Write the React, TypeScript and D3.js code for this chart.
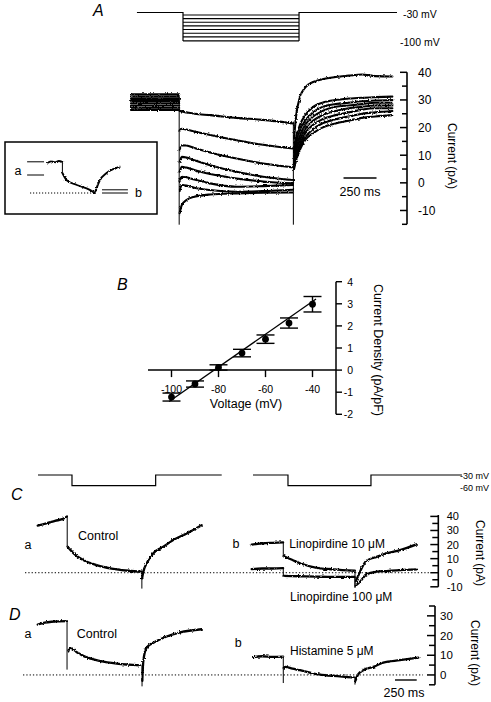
import React from 'react';
import * as d3 from 'd3';

const FONT = "'Liberation Sans', Arial, Helvetica, sans-serif";

// ---------------- Panel A: voltage protocol ----------------
const protoATimes = [45, 394, 1273, 2015]; // start, step on, step off, end (ms)
const protoAHold = -30;
const protoASteps = [-36, -45, -54, -63, -72, -81, -90, -100];
const protoALabels = ['-30 mV', '-100 mV'];

// ---------------- Panel A: current traces ----------------
const aPreTimes = [0, 365];
const aPreLevels = [32, 31.2, 30.4, 29.6, 28.8, 28, 27.2, 26.4];
const aStepTimes = [368, 385, 420, 480, 600, 800, 1000, 1228];
const aStepCurrents = [
  [26, 25.8, 25.5, 25, 24.5, 23.5, 22.8, 21.5],
  [19, 19.6, 19.3, 18.6, 17.3, 15.4, 13.8, 12.4],
  [12, 13.6, 13.5, 12.6, 11, 8.8, 7, 5.6],
  [7.5, 9.4, 9.2, 8.2, 6.4, 4, 2.2, 1],
  [4, 5.8, 5.5, 4.6, 3.2, 1.6, 0.5, -0.2],
  [0.5, 2.2, 2, 1.2, -0.2, -1.4, -1.2, -0.8],
  [-3, -0.8, -1, -1.8, -2.6, -3.2, -3, -2.5],
  [-11, -8, -6.2, -5, -4.2, -3.8, -3.6, -3.5],
];
const aTailTimes = [1235, 1250, 1280, 1320, 1380, 1450, 1550, 1650, 1750, 1850, 1980];
const aTailCurrents = [
  [16, 24, 31, 34.5, 36.5, 37.5, 38.3, 38.8, 39.2, 38.6, 38.5],
  [13, 16.5, 21, 24.5, 27.5, 29, 30, 30.5, 30.8, 31, 31.2],
  [11, 14.5, 19, 22.5, 25.5, 27.5, 28.5, 29, 29.5, 29.8, 30],
  [9.5, 13, 17, 21, 24, 26, 27.5, 28, 28.5, 29, 29],
  [8, 11.5, 15.5, 19.5, 22.5, 24.5, 26, 27, 27.5, 28, 28],
  [7, 10, 14, 18, 21, 23, 24.5, 25.5, 26.5, 27, 27],
  [6, 9, 13, 16.5, 19.5, 21.5, 23, 24, 25, 25.5, 26],
  [5, 8, 12, 15.5, 18, 20, 21.5, 22.5, 23.5, 24, 24.5],
];
const aSpikes = [
  { t: 365, from: 31, to: -15 },
  { t: 1230, from: -15, to: 22 },
];
const aTicks = [-10, 0, 10, 20, 30, 40];
const aMinorTicks = [-15, -5, 5, 15, 25, 35];
const aScaleBar = { t: 1610, len: 250, label: '250 ms' };

// ---------------- Panel A: inset ----------------
const insetPreT = [0, 5, 10, 15, 20];
const insetPreI = [38, 39.5, 38.5, 40, 39];
const insetStepT = [20, 26, 40, 58, 65];
const insetStepI = [25, 16, 10, 4, 0];
const insetTailT = [65, 72, 81, 100];
const insetTailI = [0, 16, 24.6, 32.9];
const insetLevelsA = [39, 22.5];
const insetLevelsB = [4, 0];

// ---------------- Panel B: I-V relation ----------------
const bVoltages = [-100, -90, -80, -70, -60, -50, -40];
const bDensity = [-1.22, -0.63, 0.12, 0.77, 1.4, 2.13, 2.98];
const bError = [0.18, 0.14, 0.12, 0.17, 0.19, 0.23, 0.35];
const bFitV = [-101, -38.5];
const bFitJ = [-1.42, 3.22];
const bXTicks = [-100, -80, -60, -40];
const bYTicks = [-2, -1, 0, 1, 2, 3, 4];

// ---------------- Panels C / D: protocol ----------------
const protoCLeftTimes = [3, 395, 1359, 2120];
const protoCRightTimes = [15, 418, 1374, 2422];
const protoCLevels = [-30, -60];
const protoCLabels = ['-30 mV', '-60 mV'];

// ---------------- Panel C traces ----------------
const cCtrlPreT = [0, 100, 200, 300, 338];
const cCtrlPreI = [33.5, 35, 36.8, 38.5, 40];
const cCtrlStepT = [345, 420, 525, 718, 910, 1050, 1198];
const cCtrlStepI = [18.5, 13.4, 9, 4.7, 2.4, 1.4, 0.7];
const cCtrlTailT = [1203, 1217, 1256, 1332, 1447, 1562, 1717, 1889];
const cCtrlTailI = [-4, 0.7, 6.7, 13.8, 18.4, 23.2, 27.9, 33.8];
const cCtrlSpikes = [
  { t: 340, from: 40, to: 18.5 },
  { t: 1200, from: 0.7, to: -11 },
];

const cL10PreT = [0, 120, 240, 362];
const cL10PreI = [20, 20.8, 21.2, 21.5];
const cL10StepT = [368, 384, 470, 557, 749, 941, 1188];
const cL10StepI = [11.8, 11.3, 9, 6.7, 3.5, 2.4, 1.4];
const cL10TailT = [1200, 1248, 1286, 1325, 1440, 1555, 1708, 1900];
const cL10TailI = [-6, 0.7, 5.5, 8.5, 11.3, 13.8, 16.1, 20.1];
const cL10Spikes = [
  { t: 364, from: 21.5, to: 11.5 },
  { t: 1190, from: 1.4, to: -10 },
];

const cL100PreT = [0, 120, 240, 362];
const cL100PreI = [2.6, 3, 3, 3.2];
const cL100StepT = [368, 557, 749, 941, 1188];
const cL100StepI = [-2.2, -2.5, -2.8, -3, -3];
const cL100TailT = [1200, 1248, 1325, 1440, 1555, 1708, 1900];
const cL100TailI = [-9, -6.4, -1, 0.7, 1.2, 1.9, 2.4];
const cL100Spikes = [
  { t: 364, from: 3.2, to: -2.5 },
  { t: 1190, from: -3, to: -10.5 },
];
const cTicks = [-10, 0, 10, 20, 30, 40];
const cMinorTicks = [-5, 5, 15, 25, 35];

// ---------------- Panel D traces ----------------
const dCtrlPreT = [0, 80, 160, 250, 336];
const dCtrlPreI = [25.6, 26.5, 27, 27.2, 27.3];
const dCtrlStepT = [352, 372, 450, 525, 718, 910, 1178];
const dCtrlStepI = [12, 13.9, 11.5, 9.7, 7.1, 5.7, 4.9];
const dCtrlTailT = [1205, 1217, 1256, 1371, 1486, 1640, 1889];
const dCtrlTailI = [-3, 7.1, 13.9, 17.2, 19.5, 21.6, 23.2];
const dCtrlSpikes = [
  { t: 338, from: 27.3, to: 2.9 },
  { t: 1202, from: 4.9, to: -5.6 },
];

const dHistPreT = [18, 120, 240, 362];
const dHistPreI = [9, 9.5, 9.2, 9.3];
const dHistStepT = [368, 384, 470, 557, 749, 941, 1188];
const dHistStepI = [3.5, 4.1, 3.2, 2.4, 0.4, -0.5, -1.4];
const dHistTailT = [1195, 1228, 1286, 1401, 1516, 1708, 1919];
const dHistTailI = [-3, 0.4, 2.4, 4.1, 6.3, 7.5, 8.8];
const dHistSpikes = [
  { t: 364, from: 9.3, to: -3.9 },
  { t: 1190, from: -1.4, to: -4.7 },
];
const dTicks = [0, 10, 20, 30];
const dMinorTicks = [-5, 5, 15, 25, 35];
const dScaleBar = { t: 1651, len: 250, label: '250 ms' };

type Sc = d3.ScaleLinear<number, number>;

function tracePath(xs: Sc, ys: Sc, times: number[], vals: number[]) {
  const gen = d3
    .line<number>()
    .x((_, k) => xs(times[k]))
    .y((d) => ys(d))
    .curve(d3.curveMonotoneX);
  return gen(vals) || '';
}

function Trace({ xs, ys, segs, spikes, sw = 2.3, noisy = true }: any) {
  return (
    <g fill="none" stroke="#000" strokeLinejoin="round" strokeLinecap="round">
      <g filter={noisy ? 'url(#jitter)' : undefined}>
        {segs.map((s: any, k: number) => (
          <path key={k} d={tracePath(xs, ys, s[0], s[1])} strokeWidth={sw} />
        ))}
      </g>
      {spikes.map((s: any, k: number) => (
        <line key={'s' + k} x1={xs(s.t)} x2={xs(s.t)} y1={ys(s.from)} y2={ys(s.to)} strokeWidth={1} />
      ))}
    </g>
  );
}

function VAxis({ x, ys, major, minor, majLen, minLen, labelX, fontSize, top, bottom, anchor = 'start', dir = -1 }: any) {
  return (
    <g>
      <line x1={x} x2={x} y1={ys(bottom)} y2={ys(top)} stroke="#000" strokeWidth={1.6} />
      {major.map((v: number) => (
        <line key={'M' + v} x1={x} x2={x + dir * majLen} y1={ys(v)} y2={ys(v)} stroke="#000" strokeWidth={1.5} />
      ))}
      {minor.map((v: number) => (
        <line key={'m' + v} x1={x} x2={x + dir * minLen} y1={ys(v)} y2={ys(v)} stroke="#000" strokeWidth={1.5} />
      ))}
      {major.map((v: number) => (
        <text key={'t' + v} x={labelX} y={ys(v) + fontSize * 0.36} fontSize={fontSize} textAnchor={anchor} fontFamily={FONT}>
          {v}
        </text>
      ))}
    </g>
  );
}

export default function App() {
  // Panel A scales
  const xA = d3.scaleLinear().domain([0, 2000]).range([131, 395]);
  const yA = d3.scaleLinear().domain([-15, 40]).range([224.3, 72.3]);
  const yPA = d3.scaleLinear().domain([-100, -30]).range([40.9, 12.5]);
  // inset
  const xI = d3.scaleLinear().domain([0, 100]).range([48, 120]);
  const yI = d3.scaleLinear().domain([0, 40]).range([193, 161]);
  // Panel B scales
  const xB = d3.scaleLinear().domain([-110, -30]).range([148, 336]);
  const yB = d3.scaleLinear().domain([-2, 4]).range([414.3, 281.7]);
  // Panels C/D
  const xCL = d3.scaleLinear().domain([0, 2000]).range([37.7, 211.3]);
  const xCR = d3.scaleLinear().domain([0, 2000]).range([251.7, 425.3]);
  const yC = d3.scaleLinear().domain([-10, 40]).range([586.8, 516.4]);
  const yD = d3.scaleLinear().domain([-5, 35]).range([684.8, 606]);
  const yPC = d3.scaleLinear().domain([-60, -30]).range([485.7, 475]);

  const protoCPath = (xs: Sc, t: number[]) =>
    `M${xs(t[0])},${yPC(protoCLevels[0])}H${xs(t[1])}V${yPC(protoCLevels[1])}H${xs(t[2])}V${yPC(protoCLevels[0])}H${xs(t[3])}`;

  const panelLabel = (x: number, y: number, s: string) => (
    <text x={x} y={y} fontSize={16} fontStyle="italic" fontFamily={FONT}>
      {s}
    </text>
  );

  const txt = (x: number, y: number, s: string, fs = 12.5, anchor = 'start') => (
    <text x={x} y={y} fontSize={fs} fontFamily={FONT} textAnchor={anchor}>
      {s}
    </text>
  );

  const fitLine = d3
    .line<number>()
    .x((v) => xB(v))
    .y((_, k) => yB(bFitJ[k]));

  return (
    <svg
      width={491}
      height={702}
      viewBox="0 0 491 702"
      style={{ position: 'absolute', left: 0, top: 0, background: '#fff' }}
      fontFamily={FONT}
    >
      <defs>
        <filter id="jitter" x="-5%" y="-20%" width="110%" height="140%">
          <feTurbulence type="fractalNoise" baseFrequency="0.7 0.5" numOctaves={2} seed={3} result="n" />
          <feDisplacementMap in="SourceGraphic" in2="n" scale={2.8} xChannelSelector="R" yChannelSelector="G" />
        </filter>
      </defs>
      <rect x={0} y={0} width={491} height={702} fill="#fff" />

      {/* ================= Panel A ================= */}
      {panelLabel(93, 16, 'A')}
      <g stroke="#000" fill="none" strokeWidth={1.2}>
        <path
          d={`M${xA(protoATimes[0])},${yPA(protoAHold)}H${xA(protoATimes[1])}V${yPA(protoASteps[protoASteps.length - 1])}M${xA(
            protoATimes[2]
          )},${yPA(protoASteps[protoASteps.length - 1])}V${yPA(protoAHold)}H${xA(protoATimes[3])}`}
        />
        {protoASteps.map((v) => (
          <line key={v} x1={xA(protoATimes[1])} x2={xA(protoATimes[2])} y1={yPA(v)} y2={yPA(v)} strokeWidth={1.1} />
        ))}
      </g>
      {txt(403, 18, protoALabels[0], 10.5)}
      {txt(400, 46, protoALabels[1], 10.5)}

      {/* traces */}
      {aPreLevels.map((lvl, k) => (
        <Trace
          key={k}
          xs={xA}
          ys={yA}
          sw={2.1}
          segs={[
            [aPreTimes, [lvl, lvl]],
            [aStepTimes, aStepCurrents[k]],
            [aTailTimes, aTailCurrents[k]],
          ]}
          spikes={[]}
        />
      ))}
      <Trace xs={xA} ys={yA} segs={[]} spikes={aSpikes} />

      <VAxis x={407} ys={yA} major={aTicks} minor={aMinorTicks} majLen={7} minLen={5} labelX={418} fontSize={12} top={40} bottom={-15} />
      <text transform="translate(451.7,156) rotate(90)" textAnchor="middle" dominantBaseline="central" fontSize={12} fontFamily={FONT}>
        Current (pA)
      </text>
      <line x1={xA(aScaleBar.t)} x2={xA(aScaleBar.t + aScaleBar.len)} y1={178} y2={178} stroke="#000" strokeWidth={1.4} />
      {txt(360, 196, aScaleBar.label, 12.5, 'middle')}

      {/* inset */}
      <rect x={5} y={142} width={152} height={72} fill="none" stroke="#000" strokeWidth={1.5} />
      {txt(18, 174.5, 'a', 12.5, 'middle')}
      {txt(135, 197, 'b', 12.5, 'start')}
      {insetLevelsA.map((v) => (
        <line key={'ia' + v} x1={xI(-29)} x2={xI(-5.5)} y1={yI(v)} y2={yI(v)} stroke="#000" strokeWidth={1} />
      ))}
      {insetLevelsB.map((v) => (
        <line key={'ib' + v} x1={xI(75)} x2={xI(111)} y1={yI(v)} y2={yI(v)} stroke="#000" strokeWidth={1} />
      ))}
      <line x1={xI(-25)} x2={xI(65)} y1={yI(0)} y2={yI(0)} stroke="#000" strokeWidth={1} strokeDasharray="1.2,1.8" />
      <Trace
        xs={xI}
        ys={yI}
        sw={1.9}
        segs={[
          [insetPreT, insetPreI],
          [insetStepT, insetStepI],
          [insetTailT, insetTailI],
        ]}
        spikes={[{ t: 20, from: 39, to: 25 }]}
      />

      {/* ================= Panel B ================= */}
      {panelLabel(117, 290, 'B')}
      <line x1={xB(-110)} x2={xB(-30)} y1={yB(0)} y2={yB(0)} stroke="#000" strokeWidth={1.5} />
      {bXTicks.map((v) => (
        <g key={v}>
          <line x1={xB(v)} x2={xB(v)} y1={yB(0)} y2={yB(0) + 7} stroke="#000" strokeWidth={1.4} />
          <text x={xB(v)} y={393} fontSize={10.5} textAnchor="middle" fontFamily={FONT}>
            {v}
          </text>
        </g>
      ))}
      <line x1={xB(-30)} x2={xB(-30)} y1={yB(-2)} y2={yB(4)} stroke="#000" strokeWidth={1.5} />
      {bYTicks.map((v) => (
        <g key={v}>
          <line x1={xB(-30)} x2={xB(-30) + 6} y1={yB(v)} y2={yB(v)} stroke="#000" strokeWidth={1.4} />
          <text x={353} y={yB(v) + 3.8} fontSize={10.5} textAnchor="end" fontFamily={FONT}>
            {v}
          </text>
        </g>
      ))}
      {txt(246, 407.5, 'Voltage (mV)', 12.5, 'middle')}
      <text transform="translate(378,350) rotate(90)" textAnchor="middle" dominantBaseline="central" fontSize={12.5} fontFamily={FONT}>
        Current Density (pA/pF)
      </text>
      <path d={fitLine(bFitV) || ''} stroke="#000" strokeWidth={1.3} fill="none" />
      {bVoltages.map((v, k) => (
        <g key={v} stroke="#000" strokeWidth={1.4}>
          <line x1={xB(v)} x2={xB(v)} y1={yB(bDensity[k] - bError[k])} y2={yB(bDensity[k] + bError[k])} />
          <line x1={xB(v) - 9} x2={xB(v) + 9} y1={yB(bDensity[k] - bError[k])} y2={yB(bDensity[k] - bError[k])} />
          <line x1={xB(v) - 9} x2={xB(v) + 9} y1={yB(bDensity[k] + bError[k])} y2={yB(bDensity[k] + bError[k])} />
          <circle cx={xB(v)} cy={yB(bDensity[k])} r={3.4} fill="#000" stroke="none" />
        </g>
      ))}

      {/* ================= Panels C / D protocol ================= */}
      <g fill="none" stroke="#000" strokeWidth={1.2}>
        <path d={protoCPath(xCL, protoCLeftTimes)} />
        <path d={protoCPath(xCR, protoCRightTimes)} />
      </g>
      {txt(460, 478.5, protoCLabels[0], 9)}
      {txt(460, 491, protoCLabels[1], 9)}

      {/* ================= Panel C ================= */}
      {panelLabel(11, 500, 'C')}
      <line x1={25} x2={430} y1={yC(0)} y2={yC(0)} stroke="#000" strokeWidth={1} strokeDasharray="1.3,2" />
      <Trace
        xs={xCL}
        ys={yC}
        segs={[
          [cCtrlPreT, cCtrlPreI],
          [cCtrlStepT, cCtrlStepI],
          [cCtrlTailT, cCtrlTailI],
        ]}
        spikes={cCtrlSpikes}
      />
      <Trace
        xs={xCR}
        ys={yC}
        segs={[
          [cL10PreT, cL10PreI],
          [cL10StepT, cL10StepI],
          [cL10TailT, cL10TailI],
        ]}
        spikes={cL10Spikes}
      />
      <Trace
        xs={xCR}
        ys={yC}
        segs={[
          [cL100PreT, cL100PreI],
          [cL100StepT, cL100StepI],
          [cL100TailT, cL100TailI],
        ]}
        spikes={cL100Spikes}
      />
      {txt(28, 549, 'a', 12.5, 'middle')}
      {txt(78, 539.5, 'Control')}
      {txt(236, 547.5, 'b', 12.5, 'middle')}
      {txt(289.3, 547.5, 'Linopirdine 10 \u03BCM', 12)}
      {txt(290, 601, 'Linopirdine 100 \u03BCM', 12)}
      <VAxis x={438.3} ys={yC} major={cTicks} minor={cMinorTicks} majLen={8} minLen={6} labelX={446.7} fontSize={11} top={41} bottom={-10} />
      <text transform="translate(480,553) rotate(90)" textAnchor="middle" dominantBaseline="central" fontSize={12} fontFamily={FONT}>
        Current (pA)
      </text>

      {/* ================= Panel D ================= */}
      {panelLabel(9, 620, 'D')}
      <line x1={23} x2={423} y1={yD(0)} y2={yD(0)} stroke="#000" strokeWidth={1} strokeDasharray="1.3,2" />
      <Trace
        xs={xCL}
        ys={yD}
        segs={[
          [dCtrlPreT, dCtrlPreI],
          [dCtrlStepT, dCtrlStepI],
          [dCtrlTailT, dCtrlTailI],
        ]}
        spikes={dCtrlSpikes}
      />
      <Trace
        xs={xCR}
        ys={yD}
        segs={[
          [dHistPreT, dHistPreI],
          [dHistStepT, dHistStepI],
          [dHistTailT, dHistTailI],
        ]}
        spikes={dHistSpikes}
      />
      {txt(28, 637.5, 'a', 12.5, 'middle')}
      {txt(76.7, 637.5, 'Control')}
      {txt(238.3, 647, 'b', 12.5, 'middle')}
      {txt(290, 655, 'Histamine 5 \u03BCM', 12)}
      <VAxis x={435} ys={yD} major={dTicks} minor={dMinorTicks} majLen={8} minLen={6} labelX={440} fontSize={11.5} top={35} bottom={-5} />
      <text transform="translate(475,653) rotate(90)" textAnchor="middle" dominantBaseline="central" fontSize={12} fontFamily={FONT}>
        Current (pA)
      </text>
      <line x1={xCR(dScaleBar.t)} x2={xCR(dScaleBar.t + dScaleBar.len)} y1={680} y2={680} stroke="#000" strokeWidth={1.4} />
      {txt(404, 697, dScaleBar.label, 12.5, 'middle')}
    </svg>
  );
}
